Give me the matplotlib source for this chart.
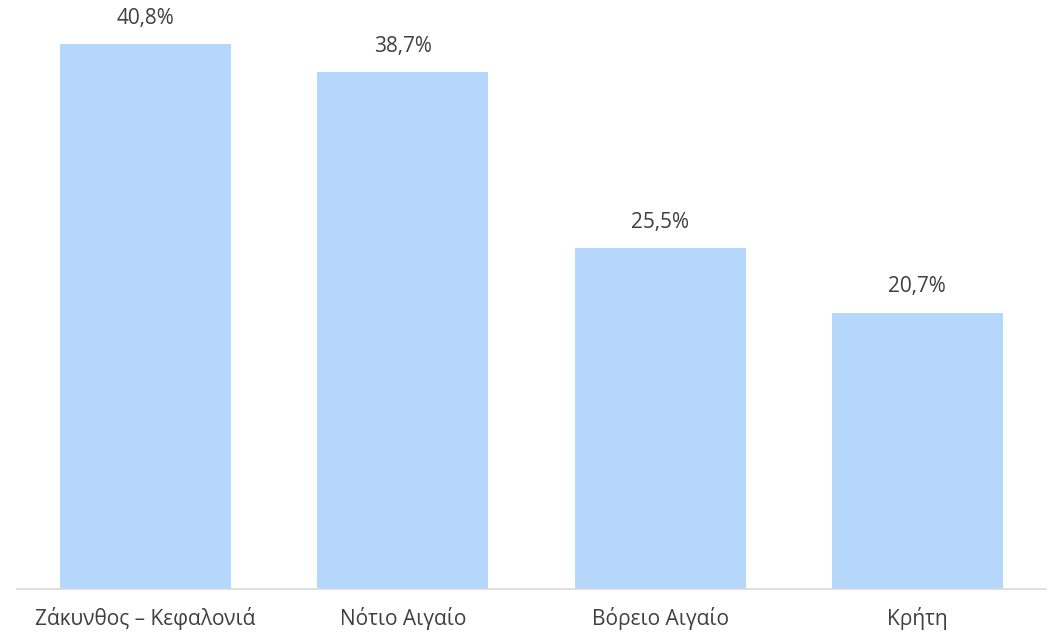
import matplotlib.pyplot as plt
from matplotlib import font_manager as fm

regions = ['Ζάκυνθος – Κεφαλονιά', 'Νότιο Αιγαίο', 'Βόρειο Αιγαίο', 'Κρήτη']
shares = [40.8, 38.7, 25.5, 20.7]

# pick the regular (non condensed) Open Sans face
path = None
for f in fm.fontManager.ttflist:
    low = f.fname.lower()
    if f.name == 'Open Sans' and 'condensed' not in low and 'italic' not in low \
            and f.style == 'normal' and f.stretch in ('normal', 400, 500):
        if path is None or 'regular' in low:
            path = f.fname
if path:
    fp = fm.FontProperties(fname=path, size=15)
else:
    fp = fm.FontProperties(family=['Open Sans', 'DejaVu Sans'], size=15)

fig = plt.figure(figsize=(10.48, 6.33), dpi=100)
ax = fig.add_axes([17 / 1048, 44 / 633, 1029 / 1048, 589 / 633])

x = range(len(regions))
bars = ax.bar(x, shares, width=0.665, color='#b4d7fb')

for b, v in zip(bars, shares):
    ax.annotate(f'{v:.1f}%'.replace('.', ','), (b.get_x() + b.get_width() / 2, v),
                xytext=(0, 11), textcoords='offset points', ha='center', va='bottom',
                fontproperties=fp, color='#404040')

ax.set_xlim(-0.5, 3.5)
ax.set_ylim(0, 44.1)
ax.set_xticks(list(x))
ax.set_xticklabels(regions, fontproperties=fp, color='#404040')
ax.tick_params(axis='x', length=0, pad=13)
ax.set_yticks([])
for s in ['top', 'right', 'left']:
    ax.spines[s].set_visible(False)
ax.spines['bottom'].set_color('#d9d9d9')
ax.spines['bottom'].set_linewidth(1.2)

fig.savefig('out.png', dpi=100)
